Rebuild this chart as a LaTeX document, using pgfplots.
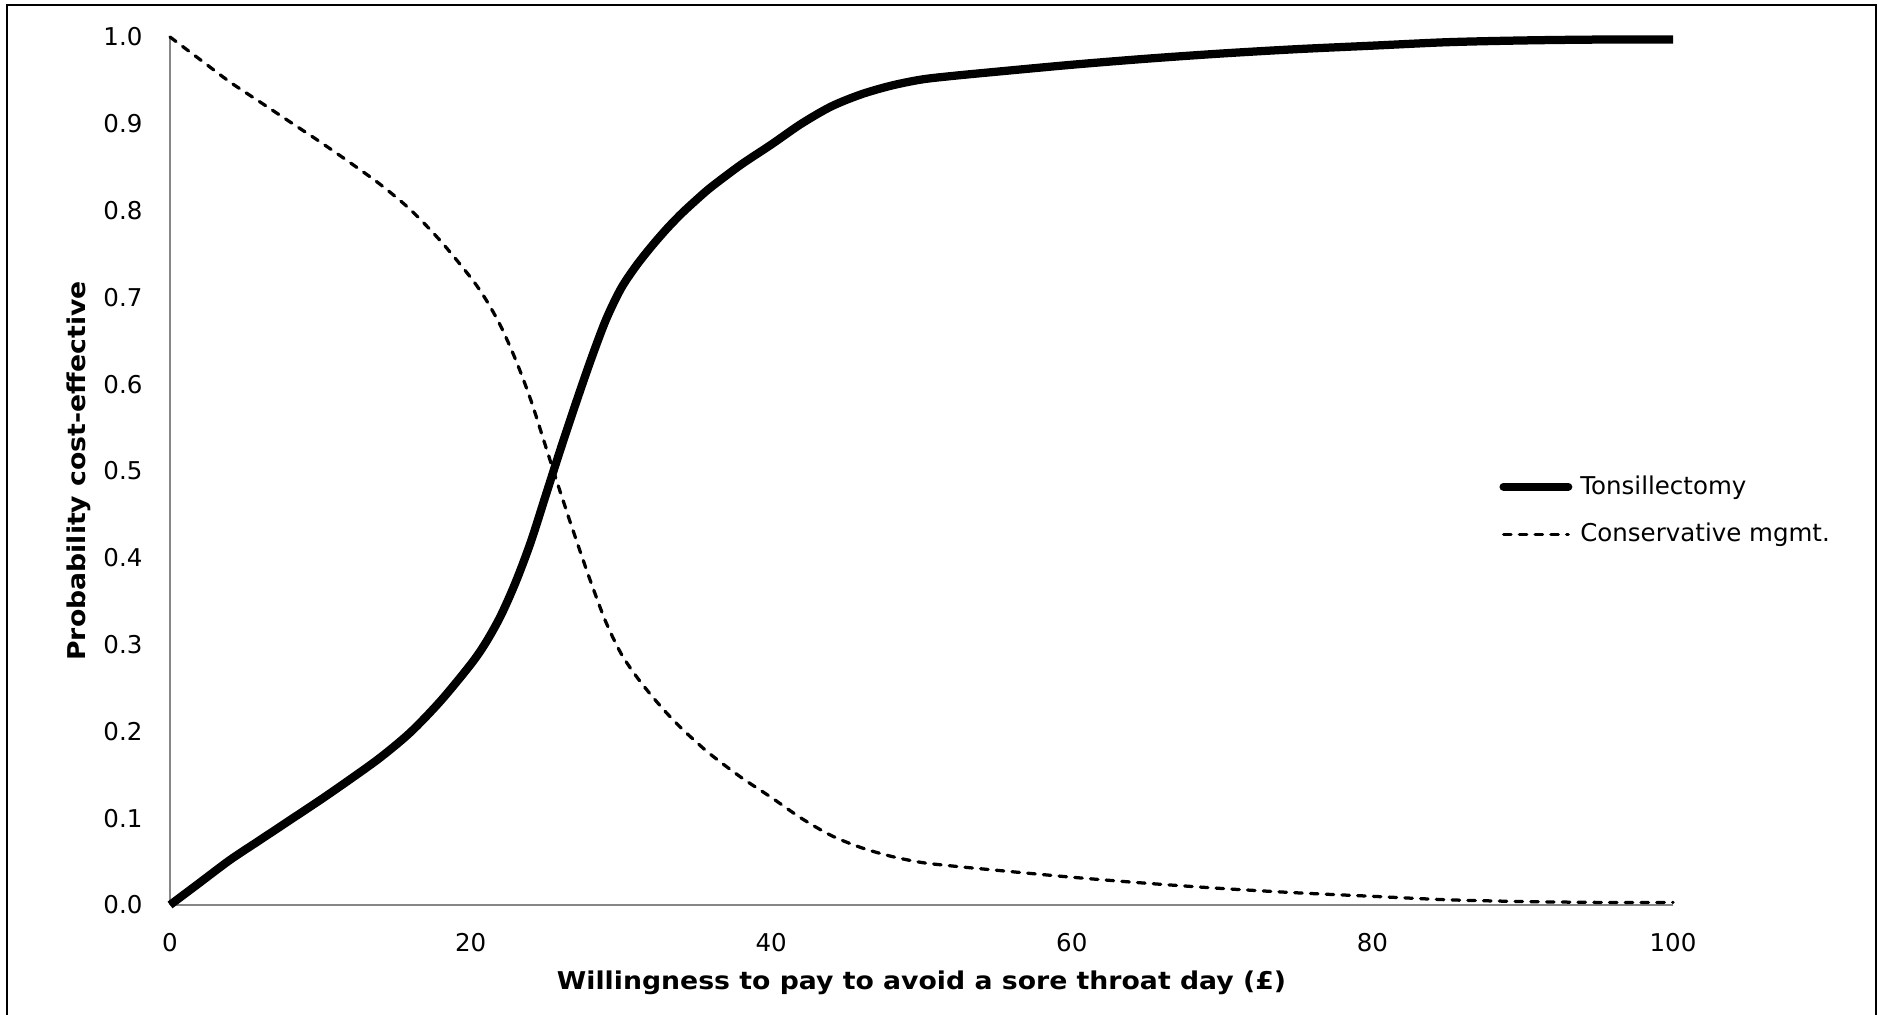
\documentclass[border=0pt]{standalone}
\usepackage{pgfplots}
\pgfplotsset{compat=1.18}
\usepackage{pgfplotstable}
\usepackage{fontspec}
\setmainfont{DejaVu Sans}
\newfontfamily\wide{DejaVu Sans}[FakeStretch=1.09]
\definecolor{axgray}{RGB}{134,134,134}
\pgfplotstableread{
x t
0 0.000
2 0.026
4 0.052
6 0.075
8 0.098
10 0.121
12 0.145
14 0.170
16 0.199
18 0.235
20 0.277
21 0.302
22 0.333
23 0.372
24 0.418
25 0.472
26 0.526
27 0.578
28 0.628
29 0.674
30 0.710
31 0.736
32 0.758
33 0.778
34 0.796
35 0.812
36 0.827
38 0.853
40 0.876
42 0.900
44 0.920
46 0.934
48 0.944
50 0.951
52 0.955
55 0.960
60 0.968
65 0.975
70 0.981
75 0.986
80 0.990
85 0.994
90 0.996
95 0.997
100 0.997
}\tonsil
\pgfplotstableread{
x c
0 1.000
2 0.974
4 0.948
6 0.925
8 0.902
10 0.879
12 0.855
14 0.830
16 0.801
18 0.765
20 0.723
21 0.698
22 0.667
23 0.628
24 0.582
25 0.528
26 0.474
27 0.422
28 0.372
29 0.326
30 0.290
31 0.264
32 0.242
33 0.222
34 0.204
35 0.188
36 0.173
38 0.147
40 0.124
42 0.100
44 0.080
46 0.066
48 0.056
50 0.049
52 0.045
55 0.040
60 0.032
65 0.025
70 0.019
75 0.014
80 0.010
85 0.006
90 0.004
95 0.003
100 0.003
}\conserv
\begin{document}
\begin{tikzpicture}
\begin{axis}[
  at={(68pt,44pt)}, anchor=south west,
  scale only axis, width=601.2pt, height=347.2pt,
  xmin=0, xmax=100, ymin=0, ymax=1,
  xtick={0,20,40,60,80,100},
  ytick={0,0.1,0.2,0.3,0.4,0.5,0.6,0.7,0.8,0.9,1.0},
  yticklabel style={/pgf/number format/fixed, /pgf/number format/fixed zerofill, /pgf/number format/precision=1, xshift=-7.5pt},
  /pgf/number format/assume math mode=true,
  axis x line=bottom, axis y line=left,
  axis line style={-, draw=axgray, line width=0.6pt},
  major tick length=0pt,
  tick label style={font=\fontsize{9.8}{11}\selectfont, text=black},
  xticklabel style={yshift=-7.9pt},
  xlabel={\textbf{Willingness to pay to avoid a sore throat day (£)}},
  ylabel={\textbf{Probability cost-effective}},
  label style={font=\wide\fontsize{9.8}{11}\selectfont},
  xlabel style={at={(axis description cs:0.5,-0.0975)}, anchor=base},
  ylabel style={at={(axis description cs:-0.0559,0.5)}, anchor=base},
  clip=false,
  legend cell align=left,
  legend image code/.code={\draw[#1, line cap=round] (1.65pt,0pt) -- (27.5pt,0pt);},
  legend style={draw=none, fill=none, at={(axis description cs:0.8842,0.4545)}, anchor=west,
    inner sep=0pt, row sep=7.7pt, column sep=2pt,
    nodes={inner sep=1.2pt}, font=\fontsize{9.8}{11}\selectfont},
]
\addplot[black, line width=3.3pt, smooth, line join=round] table[x=x, y=t] {\tonsil};
\addlegendentry{Tonsillectomy}
\addplot[black, line width=1.3pt, smooth, line cap=round, dash pattern=on 3pt off 3.3pt] table[x=x, y=c] {\conserv};
\addlegendentry{Conservative mgmt.}
\end{axis}
\draw[black, line width=0.8pt] (2.8pt,-5pt) rectangle (750.4pt,404pt);
\pgfresetboundingbox
\useasboundingbox (0,0) rectangle (751.6pt,406pt);
\end{tikzpicture}
\end{document}
